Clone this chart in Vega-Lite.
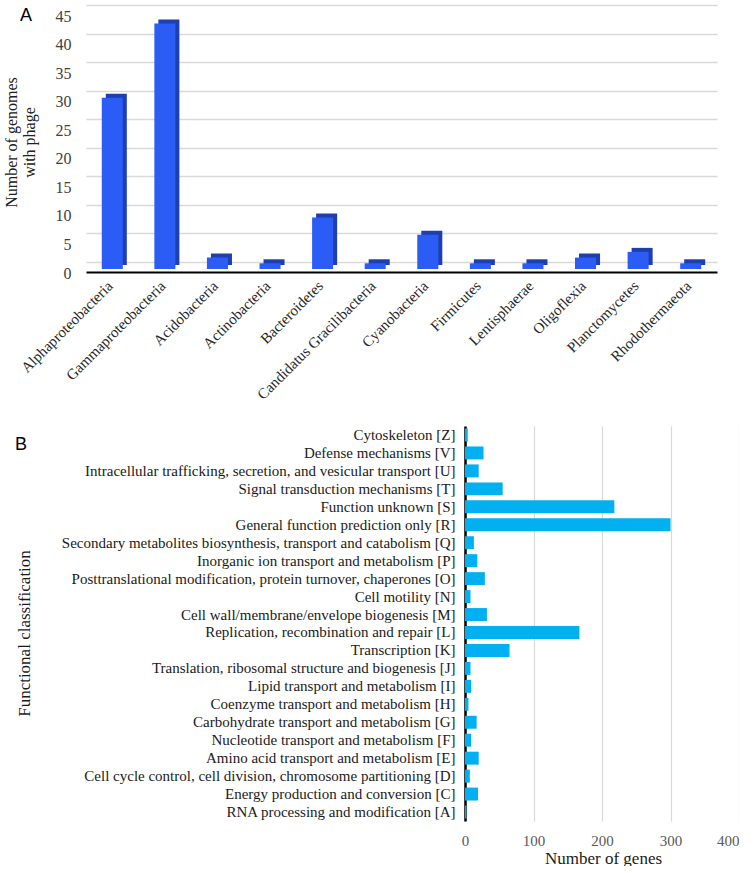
{
  "$schema": "https://vega.github.io/schema/vega-lite/v6.json",
  "background": "white",
  "padding": {"left": 3, "top": 5, "right": 0, "bottom": 0},
  "config": {
    "view": {"stroke": null},
    "font": "Liberation Serif",
    "axis": {"labelFont": "Liberation Serif", "titleFont": "Liberation Serif", "titleFontWeight": "normal"}
  },
  "spacing": 24,
  "vconcat": [
    {
      "title": {"text": "A", "anchor": "start", "frame": "bounds", "font": "Liberation Sans", "fontSize": 18, "fontWeight": "normal", "dx": 17, "dy": 0, "offset": -20},
      "width": 631,
      "height": 257,
      "data": {"values": [
        {"phylum": "Alphaproteobacteria", "genomes": 30},
        {"phylum": "Gammaproteobacteria", "genomes": 43},
        {"phylum": "Acidobacteria", "genomes": 2},
        {"phylum": "Actinobacteria", "genomes": 1},
        {"phylum": "Bacteroidetes", "genomes": 9},
        {"phylum": "Candidatus Gracilibacteria", "genomes": 1},
        {"phylum": "Cyanobacteria", "genomes": 6},
        {"phylum": "Firmicutes", "genomes": 1},
        {"phylum": "Lentisphaerae", "genomes": 1},
        {"phylum": "Oligoflexia", "genomes": 2},
        {"phylum": "Planctomycetes", "genomes": 3},
        {"phylum": "Rhodothermaeota", "genomes": 1}
      ]},
      "encoding": {
        "x": {"field": "phylum", "type": "nominal", "sort": null, "title": null,
          "scale": {"paddingInner": 0.6, "paddingOuter": 0.3},
          "axis": {"labelAngle": -45, "labelFontSize": 15, "labelColor": "#262626", "ticks": false, "domainColor": "#000000", "domainWidth": 2, "offset": 10, "labelPadding": 6, "labelOffset": -7, "labelLimit": 300}},
        "y": {"field": "genomes", "type": "quantitative", "title": ["Number of genomes", "with phage"],
          "scale": {"domain": [0, 45]},
          "axis": {"values": [0, 5, 10, 15, 20, 25, 30, 35, 40, 45], "labelFontSize": 16, "labelColor": "#404040", "labelOffset": 11, "domain": false, "ticks": false, "gridColor": "#d9d9d9", "gridWidth": 1.5, "titleFontSize": 16, "titleColor": "#202020", "titlePadding": 18, "labelPadding": 15, "titleY": 137}}
      },
      "layer": [
        {"mark": {"type": "bar", "color": "#1f3fae", "xOffset": 4, "yOffset": 3}},
        {"mark": {"type": "bar", "color": "#2b5cf5", "yOffset": 7}}
      ]
    },
    {
      "title": {"text": "B", "anchor": "start", "frame": "bounds", "font": "Liberation Sans", "fontSize": 18, "fontWeight": "normal", "dx": 0, "dy": 8, "offset": -20},
      "width": 653,
      "height": 395,
      "data": {"values": [
        {"category": "Cytoskeleton [Z]", "genes": 4},
        {"category": "Defense mechanisms [V]", "genes": 27},
        {"category": "Intracellular trafficking, secretion, and vesicular transport [U]", "genes": 20},
        {"category": "Signal transduction mechanisms [T]", "genes": 55},
        {"category": "Function unknown [S]", "genes": 218},
        {"category": "General function prediction only [R]", "genes": 300},
        {"category": "Secondary metabolites biosynthesis, transport and catabolism [Q]", "genes": 13},
        {"category": "Inorganic ion transport and metabolism [P]", "genes": 18},
        {"category": "Posttranslational modification, protein turnover, chaperones [O]", "genes": 29},
        {"category": "Cell motility [N]", "genes": 8},
        {"category": "Cell wall/membrane/envelope biogenesis [M]", "genes": 32},
        {"category": "Replication, recombination and repair [L]", "genes": 167},
        {"category": "Transcription [K]", "genes": 65},
        {"category": "Translation, ribosomal structure and biogenesis [J]", "genes": 8},
        {"category": "Lipid transport and metabolism [I]", "genes": 9},
        {"category": "Coenzyme transport and metabolism [H]", "genes": 5},
        {"category": "Carbohydrate transport and metabolism [G]", "genes": 17},
        {"category": "Nucleotide transport and metabolism [F]", "genes": 9},
        {"category": "Amino acid transport and metabolism [E]", "genes": 20},
        {"category": "Cell cycle control, cell division, chromosome partitioning [D]", "genes": 7},
        {"category": "Energy production and conversion [C]", "genes": 19},
        {"category": "RNA processing and modification [A]", "genes": 2}
      ]},
      "mark": {"type": "bar", "color": "#00b0f0"},
      "encoding": {
        "y": {"field": "category", "type": "nominal", "sort": null, "title": "Functional classification",
          "scale": {"paddingInner": 0.28, "paddingOuter": 0.14},
          "axis": {"offset": -379, "labelFontSize": 15, "labelColor": "#1a1a1a", "labelLimit": 500, "ticks": false, "domainColor": "#000000", "domainWidth": 2.5, "labelPadding": 10, "titleFontSize": 17, "titleColor": "#1a1a1a", "titleX": -432, "titleY": 207}},
        "x": {"field": "genes", "type": "quantitative", "title": "Number of genes",
          "scale": {"domain": [-553.3, 400], "nice": false, "zero": false},
          "axis": {"values": [0, 100, 200, 300, 400], "labelFontSize": 15, "labelColor": "#595959", "domain": false, "ticks": false, "gridColor": "#d9d9d9", "gridWidth": 1.2, "labelPadding": 12, "titleFontSize": 17, "titleColor": "#1a1a1a", "titlePadding": 2, "titleX": 517}}
      }
    }
  ]
}
